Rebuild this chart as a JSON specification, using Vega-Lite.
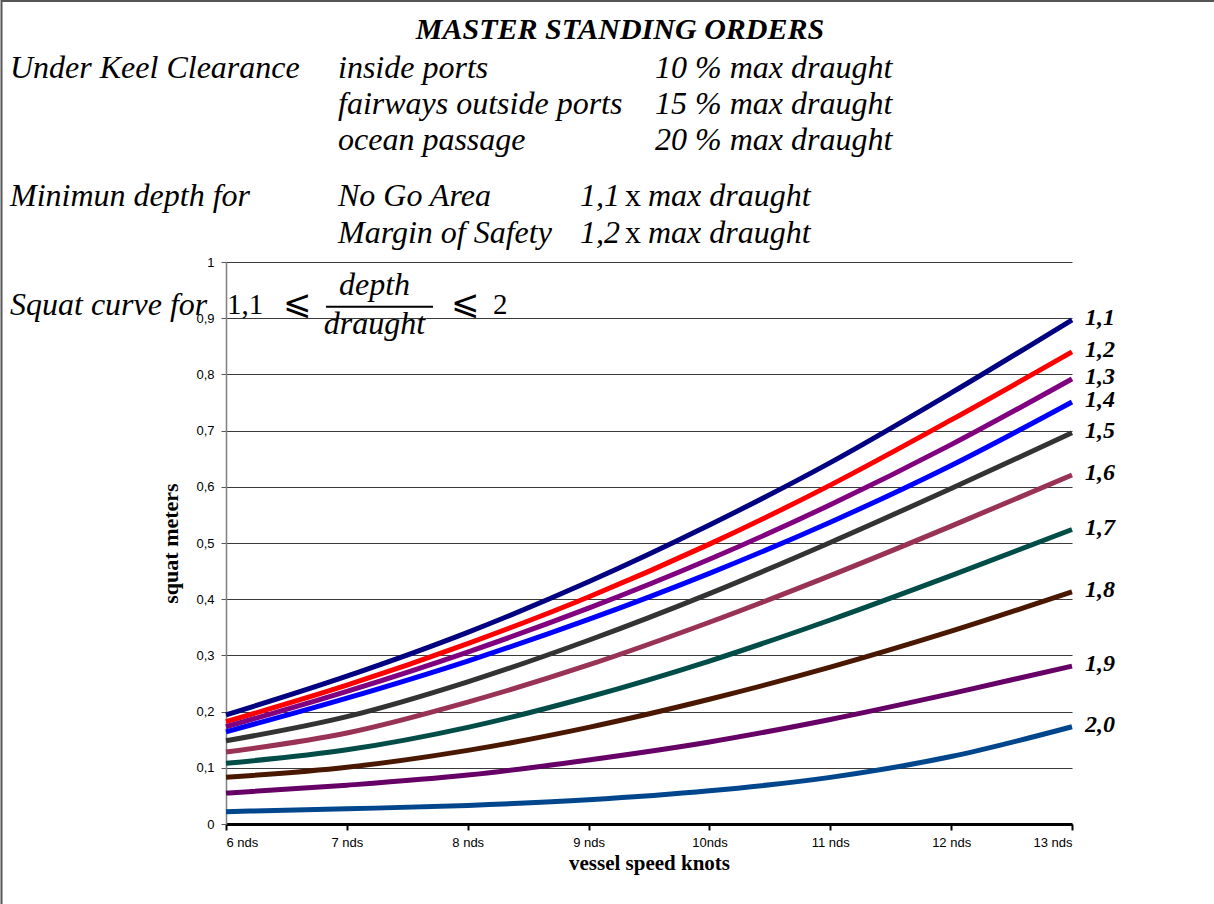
{
  "$schema": "https://vega.github.io/schema/vega-lite/v6.json",
  "width": 846,
  "height": 562,
  "autosize": {"type": "none"},
  "padding": {"left": 226, "top": 262, "right": 142, "bottom": 80},
  "background": "white",
  "config": {
    "view": {"stroke": null},
    "font": "Liberation Sans"
  },
  "datasets": {
    "squat": [
      {"ratio": "1,1", "knots": 6, "squat": 0.194}, {"ratio": "1,1", "knots": 7, "squat": 0.263}, {"ratio": "1,1", "knots": 8, "squat": 0.341}, {"ratio": "1,1", "knots": 9, "squat": 0.431}, {"ratio": "1,1", "knots": 10, "squat": 0.532}, {"ratio": "1,1", "knots": 11, "squat": 0.643}, {"ratio": "1,1", "knots": 12, "squat": 0.767}, {"ratio": "1,1", "knots": 13, "squat": 0.897},
      {"ratio": "1,2", "knots": 6, "squat": 0.182}, {"ratio": "1,2", "knots": 7, "squat": 0.247}, {"ratio": "1,2", "knots": 8, "squat": 0.321}, {"ratio": "1,2", "knots": 9, "squat": 0.404}, {"ratio": "1,2", "knots": 10, "squat": 0.498}, {"ratio": "1,2", "knots": 11, "squat": 0.603}, {"ratio": "1,2", "knots": 12, "squat": 0.719}, {"ratio": "1,2", "knots": 13, "squat": 0.840},
      {"ratio": "1,3", "knots": 6, "squat": 0.173}, {"ratio": "1,3", "knots": 7, "squat": 0.236}, {"ratio": "1,3", "knots": 8, "squat": 0.306}, {"ratio": "1,3", "knots": 9, "squat": 0.384}, {"ratio": "1,3", "knots": 10, "squat": 0.471}, {"ratio": "1,3", "knots": 11, "squat": 0.568}, {"ratio": "1,3", "knots": 12, "squat": 0.675}, {"ratio": "1,3", "knots": 13, "squat": 0.792},
      {"ratio": "1,4", "knots": 6, "squat": 0.164}, {"ratio": "1,4", "knots": 7, "squat": 0.224}, {"ratio": "1,4", "knots": 8, "squat": 0.290}, {"ratio": "1,4", "knots": 9, "squat": 0.364}, {"ratio": "1,4", "knots": 10, "squat": 0.446}, {"ratio": "1,4", "knots": 11, "squat": 0.537}, {"ratio": "1,4", "knots": 12, "squat": 0.638}, {"ratio": "1,4", "knots": 13, "squat": 0.751},
      {"ratio": "1,5", "knots": 6, "squat": 0.148}, {"ratio": "1,5", "knots": 7, "squat": 0.191}, {"ratio": "1,5", "knots": 8, "squat": 0.253}, {"ratio": "1,5", "knots": 9, "squat": 0.327}, {"ratio": "1,5", "knots": 10, "squat": 0.410}, {"ratio": "1,5", "knots": 11, "squat": 0.501}, {"ratio": "1,5", "knots": 12, "squat": 0.597}, {"ratio": "1,5", "knots": 13, "squat": 0.696},
      {"ratio": "1,6", "knots": 6, "squat": 0.128}, {"ratio": "1,6", "knots": 7, "squat": 0.162}, {"ratio": "1,6", "knots": 8, "squat": 0.217}, {"ratio": "1,6", "knots": 9, "squat": 0.283}, {"ratio": "1,6", "knots": 10, "squat": 0.359}, {"ratio": "1,6", "knots": 11, "squat": 0.442}, {"ratio": "1,6", "knots": 12, "squat": 0.530}, {"ratio": "1,6", "knots": 13, "squat": 0.621},
      {"ratio": "1,7", "knots": 6, "squat": 0.108}, {"ratio": "1,7", "knots": 7, "squat": 0.132}, {"ratio": "1,7", "knots": 8, "squat": 0.172}, {"ratio": "1,7", "knots": 9, "squat": 0.226}, {"ratio": "1,7", "knots": 10, "squat": 0.290}, {"ratio": "1,7", "knots": 11, "squat": 0.363}, {"ratio": "1,7", "knots": 12, "squat": 0.442}, {"ratio": "1,7", "knots": 13, "squat": 0.524},
      {"ratio": "1,8", "knots": 6, "squat": 0.083}, {"ratio": "1,8", "knots": 7, "squat": 0.101}, {"ratio": "1,8", "knots": 8, "squat": 0.131}, {"ratio": "1,8", "knots": 9, "squat": 0.172}, {"ratio": "1,8", "knots": 10, "squat": 0.222}, {"ratio": "1,8", "knots": 11, "squat": 0.279}, {"ratio": "1,8", "knots": 12, "squat": 0.343}, {"ratio": "1,8", "knots": 13, "squat": 0.413},
      {"ratio": "1,9", "knots": 6, "squat": 0.055}, {"ratio": "1,9", "knots": 7, "squat": 0.069}, {"ratio": "1,9", "knots": 8, "squat": 0.087}, {"ratio": "1,9", "knots": 9, "squat": 0.114}, {"ratio": "1,9", "knots": 10, "squat": 0.146}, {"ratio": "1,9", "knots": 11, "squat": 0.186}, {"ratio": "1,9", "knots": 12, "squat": 0.232}, {"ratio": "1,9", "knots": 13, "squat": 0.281},
      {"ratio": "2,0", "knots": 6, "squat": 0.022}, {"ratio": "2,0", "knots": 7, "squat": 0.027}, {"ratio": "2,0", "knots": 8, "squat": 0.033}, {"ratio": "2,0", "knots": 9, "squat": 0.043}, {"ratio": "2,0", "knots": 10, "squat": 0.059}, {"ratio": "2,0", "knots": 11, "squat": 0.083}, {"ratio": "2,0", "knots": 12, "squat": 0.120}, {"ratio": "2,0", "knots": 13, "squat": 0.173}
    ]
  },
  "layer": [
    {
      "data": {"name": "squat"},
      "mark": {"type": "line", "strokeWidth": 5, "interpolate": "monotone", "strokeCap": "butt"},
      "encoding": {
        "x": {
          "field": "knots", "type": "quantitative",
          "scale": {"domain": [6, 13], "nice": false, "zero": false},
          "axis": {
            "values": [6, 7, 8, 9, 10, 11, 12, 13],
            "labelExpr": "datum.value == 10 ? '10nds' : datum.value + ' nds'",
            "grid": false,
            "domainColor": "#000000", "domainWidth": 3,
            "tickColor": "#000000", "tickWidth": 2, "tickSize": 6,
            "labelFont": "Liberation Sans", "labelFontSize": 13, "labelColor": "#000000", "labelPadding": 6,
            "title": "vessel speed knots",
            "titleFont": "Liberation Serif", "titleFontSize": 21, "titleFontWeight": "bold", "titleColor": "#000000",
            "titlePadding": 3
          }
        },
        "y": {
          "field": "squat", "type": "quantitative",
          "scale": {"domain": [0, 1], "nice": false, "zero": true},
          "axis": {
            "values": [0, 0.1, 0.2, 0.3, 0.4, 0.5, 0.6, 0.7, 0.8, 0.9, 1],
            "labelExpr": "replace(format(datum.value, '.1~f'), '.', ',')",
            "grid": true, "gridColor": "#3a3a3a", "gridWidth": 1,
            "domainColor": "#808080", "domainWidth": 1.5,
            "tickColor": "#555555", "tickSize": 5,
            "labelFont": "Liberation Sans", "labelFontSize": 13, "labelColor": "#000000", "labelPadding": 7,
            "title": "squat meters",
            "titleFont": "Liberation Serif", "titleFontSize": 22, "titleFontWeight": "bold", "titleColor": "#000000",
            "titlePadding": 13
          }
        },
        "color": {
          "field": "ratio", "type": "nominal",
          "scale": {
            "domain": ["1,1", "1,2", "1,3", "1,4", "1,5", "1,6", "1,7", "1,8", "1,9", "2,0"],
            "range": ["#000080", "#ff0000", "#800080", "#0000ff", "#333333", "#993355", "#004d48", "#4a1800", "#660066", "#00468c"]
          },
          "legend": null
        }
      }
    },
    {
      "data": {"name": "squat"},
      "transform": [{"filter": "datum.knots == 13"}],
      "mark": {"type": "text", "align": "left", "baseline": "middle", "dx": 13, "dy": -2, "font": "Liberation Serif", "fontSize": 24, "fontWeight": "bold", "fontStyle": "italic", "color": "#000000"},
      "encoding": {
        "x": {"field": "knots", "type": "quantitative"},
        "y": {"field": "squat", "type": "quantitative"},
        "text": {"field": "ratio"}
      }
    },
    {
      "data": {"values": [{"t": "MASTER STANDING ORDERS"}]},
      "mark": {"type": "text", "align": "center", "baseline": "alphabetic", "font": "Liberation Serif", "fontSize": 30, "fontWeight": "bold", "fontStyle": "italic", "color": "#000000"},
      "encoding": {"x": {"datum": 9.26}, "y": {"datum": 1.3968}, "text": {"field": "t"}}
    },
    {
      "data": {"values": [{"t": "Under Keel Clearance"}]},
      "mark": {"type": "text", "align": "left", "baseline": "alphabetic", "font": "Liberation Serif", "fontSize": 32, "fontStyle": "italic", "color": "#000000"},
      "encoding": {"x": {"datum": 4.2128}, "y": {"datum": 1.3274}, "text": {"field": "t"}}
    },
    {
      "data": {"values": [{}]},
      "mark": {"type": "text", "align": "left", "baseline": "alphabetic", "font": "Liberation Serif", "fontSize": 32, "fontStyle": "italic", "color": "#000000", "lineHeight": 36,
        "text": ["inside ports", "fairways outside ports", "ocean passage"]},
      "encoding": {"x": {"datum": 6.9267}, "y": {"datum": 1.3274}}
    },
    {
      "data": {"values": [{}]},
      "mark": {"type": "text", "align": "left", "baseline": "alphabetic", "font": "Liberation Serif", "fontSize": 32, "fontStyle": "italic", "color": "#000000", "lineHeight": 36,
        "text": ["10 % max draught", "15 % max draught", "20 % max draught"]},
      "encoding": {"x": {"datum": 9.5496}, "y": {"datum": 1.3274}}
    },
    {
      "data": {"values": [{"t": "Minimun depth for"}]},
      "mark": {"type": "text", "align": "left", "baseline": "alphabetic", "font": "Liberation Serif", "fontSize": 32, "fontStyle": "italic", "color": "#000000"},
      "encoding": {"x": {"datum": 4.2128}, "y": {"datum": 1.0996}, "text": {"field": "t"}}
    },
    {
      "data": {"values": [{}]},
      "mark": {"type": "text", "align": "left", "baseline": "alphabetic", "font": "Liberation Serif", "fontSize": 32, "fontStyle": "italic", "color": "#000000", "lineHeight": 37,
        "text": ["No Go Area", "Margin of Safety"]},
      "encoding": {"x": {"datum": 6.9267}, "y": {"datum": 1.0996}}
    },
    {
      "data": {"values": [{}]},
      "mark": {"type": "text", "align": "left", "baseline": "alphabetic", "font": "Liberation Serif", "fontSize": 32, "fontStyle": "italic", "color": "#000000", "lineHeight": 37,
        "text": ["1,1", "1,2"]},
      "encoding": {"x": {"datum": 8.9291}, "y": {"datum": 1.0996}}
    },
    {
      "data": {"values": [{}]},
      "mark": {"type": "text", "align": "left", "baseline": "alphabetic", "font": "Liberation Serif", "fontSize": 32, "color": "#000000", "lineHeight": 37,
        "text": ["x", "x"]},
      "encoding": {"x": {"datum": 9.3014}, "y": {"datum": 1.0996}}
    },
    {
      "data": {"values": [{}]},
      "mark": {"type": "text", "align": "left", "baseline": "alphabetic", "font": "Liberation Serif", "fontSize": 32, "fontStyle": "italic", "color": "#000000", "lineHeight": 37,
        "text": ["max draught", "max draught"]},
      "encoding": {"x": {"datum": 9.4917}, "y": {"datum": 1.0996}}
    },
    {
      "data": {"values": [{"t": "Squat curve for"}]},
      "mark": {"type": "text", "align": "left", "baseline": "alphabetic", "font": "Liberation Serif", "fontSize": 32, "fontStyle": "italic", "color": "#000000"},
      "encoding": {"x": {"datum": 4.2128}, "y": {"datum": 0.9057}, "text": {"field": "t"}}
    },
    {
      "data": {"values": [{"t": "1,1"}]},
      "mark": {"type": "text", "align": "left", "baseline": "alphabetic", "font": "Liberation Serif", "fontSize": 29, "color": "#000000"},
      "encoding": {"x": {"datum": 6.0083}, "y": {"datum": 0.9075}, "text": {"field": "t"}}
    },
    {
      "data": {"values": [{"t": "⩽"}]},
      "mark": {"type": "text", "align": "left", "baseline": "alphabetic", "font": "DejaVu Serif", "fontSize": 34, "color": "#000000"},
      "encoding": {"x": {"datum": 6.4716}, "y": {"datum": 0.9075}, "text": {"field": "t"}}
    },
    {
      "data": {"values": [{"t": "depth"}]},
      "mark": {"type": "text", "align": "center", "baseline": "alphabetic", "font": "Liberation Serif", "fontSize": 32, "fontStyle": "italic", "color": "#000000"},
      "encoding": {"x": {"datum": 7.2287}, "y": {"datum": 0.9413}, "text": {"field": "t"}}
    },
    {
      "data": {"values": [{}]},
      "mark": {"type": "rule", "strokeWidth": 2, "color": "#000000"},
      "encoding": {"x": {"datum": 6.8274}, "x2": {"datum": 7.7128}, "y": {"datum": 0.9205}}
    },
    {
      "data": {"values": [{"t": "draught"}]},
      "mark": {"type": "text", "align": "center", "baseline": "alphabetic", "font": "Liberation Serif", "fontSize": 32, "fontStyle": "italic", "color": "#000000"},
      "encoding": {"x": {"datum": 7.2287}, "y": {"datum": 0.8719}, "text": {"field": "t"}}
    },
    {
      "data": {"values": [{"t": "⩽"}]},
      "mark": {"type": "text", "align": "left", "baseline": "alphabetic", "font": "DejaVu Serif", "fontSize": 34, "color": "#000000"},
      "encoding": {"x": {"datum": 7.8617}, "y": {"datum": 0.9075}, "text": {"field": "t"}}
    },
    {
      "data": {"values": [{"t": "2"}]},
      "mark": {"type": "text", "align": "left", "baseline": "alphabetic", "font": "Liberation Serif", "fontSize": 29, "color": "#000000"},
      "encoding": {"x": {"datum": 8.2092}, "y": {"datum": 0.9075}, "text": {"field": "t"}}
    },
    {
      "data": {"values": [{}]},
      "mark": {"type": "rule", "strokeWidth": 2, "color": "#555555"},
      "encoding": {"x": {"datum": 4.1424}, "y": {"datum": 1.4662}, "y2": {"datum": -0.1423}}
    },
    {
      "data": {"values": [{}]},
      "mark": {"type": "rule", "strokeWidth": 2, "color": "#555555"},
      "encoding": {"x": {"datum": 4.1424}, "x2": {"datum": 14.175}, "y": {"datum": 1.4644}}
    }
  ]
}
